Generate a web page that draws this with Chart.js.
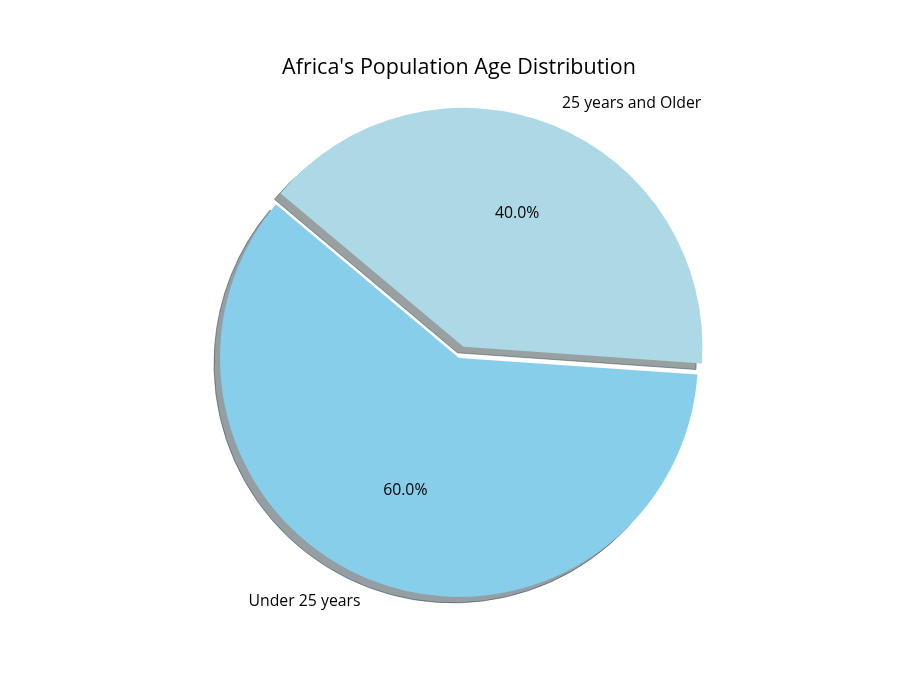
<!DOCTYPE html>
<html>
<head>
<meta charset="utf-8">
<title>Africa's Population Age Distribution</title>
<script src="https://cdn.jsdelivr.net/npm/chart.js@4.4.1/dist/chart.umd.min.js"></script>
<style>
html, body { margin: 0; padding: 0; background: #fff; }
#wrap { width: 900px; height: 700px; }
</style>
</head>
<body>
<div id="wrap"><canvas id="pieChart"></canvas></div>
<script>
// data
const labels = ['Under 25 years', '25 years and Older'];
const shares = [60, 40];
const colors = ['#87CEEB', '#ADD8E6'];
const explode = [0, 0.05]; // fraction of the radius

const FONT = '"Open Sans", "DejaVu Sans", sans-serif';

function hexToRgb(hex) {
  const n = parseInt(hex.slice(1), 16);
  return [(n >> 16) & 255, (n >> 8) & 255, n & 255];
}

// shift of an arc along its middle angle
function explodeShift(el, i) {
  const mid = (el.startAngle + el.endAngle) / 2;
  const d = explode[i] * el.outerRadius;
  return { dx: Math.cos(mid) * d, dy: Math.sin(mid) * d };
}

// move the exploded slice out without changing its radius
const explodePlugin = {
  id: 'explode',
  afterUpdate(chart) {
    chart.getDatasetMeta(0).data.forEach((el, i) => {
      if (!explode[i] || el._patched) return;
      el._patched = true;
      const draw = el.draw;
      el.draw = function (ctx) {
        const s = explodeShift(this, i);
        ctx.save();
        ctx.translate(s.dx, s.dy);
        draw.call(this, ctx);
        ctx.restore();
      };
    });
  }
};

// grey drop shadow under every slice, drawn before the slices
const shadowPlugin = {
  id: 'shadow',
  beforeDatasetsDraw(chart) {
    const ctx = chart.ctx;
    chart.getDatasetMeta(0).data.forEach((el, i) => {
      const s = explodeShift(el, i);
      const rgb = hexToRgb(colors[i]).map(v => Math.round(v * 0.3));
      const shade = `rgba(${rgb[0]}, ${rgb[1]}, ${rgb[2]}, 0.5)`;
      ctx.save();
      ctx.translate(s.dx - 6, s.dy + 6);
      ctx.beginPath();
      ctx.moveTo(el.x, el.y);
      ctx.arc(el.x, el.y, el.outerRadius, el.startAngle, el.endAngle);
      ctx.closePath();
      ctx.fillStyle = shade;
      ctx.fill();
      ctx.strokeStyle = shade;
      ctx.lineWidth = 1;
      ctx.stroke();
      ctx.restore();
    });
  }
};

// outer labels and percentages
const labelPlugin = {
  id: 'sliceLabels',
  afterDatasetsDraw(chart) {
    const ctx = chart.ctx;
    const total = shares.reduce((a, b) => a + b, 0);
    ctx.save();
    ctx.fillStyle = '#000';
    ctx.font = '15.8px ' + FONT;
    ctx.textBaseline = 'middle';
    chart.getDatasetMeta(0).data.forEach((el, i) => {
      const s = explodeShift(el, i);
      const mid = (el.startAngle + el.endAngle) / 2;
      const r = el.outerRadius;
      const cx = el.x + s.dx, cy = el.y + s.dy;
      const cos = Math.cos(mid), sin = Math.sin(mid);

      ctx.textAlign = cos > 0 ? 'left' : 'right';
      ctx.fillText(labels[i], cx + 1.1 * r * cos, cy + 1.1 * r * sin);

      ctx.textAlign = 'center';
      const pct = (shares[i] / total * 100).toFixed(1) + '%';
      ctx.fillText(pct, cx + 0.6 * r * cos, cy + 0.6 * r * sin);
    });
    ctx.restore();
  }
};

const ctx = document.getElementById('pieChart').getContext('2d');
new Chart(ctx, {
  type: 'pie',
  data: {
    labels: labels,
    datasets: [{
      data: shares,
      backgroundColor: colors,
      borderWidth: 0,
      hoverOffset: 0
    }]
  },
  options: {
    responsive: true,
    maintainAspectRatio: false,
    animation: false,
    rotation: 94,
    radius: 239,
    layout: { padding: { left: 18, right: 0, top: 0, bottom: 75 } },
    plugins: {
      legend: { display: false },
      tooltip: { enabled: false },
      title: {
        display: true,
        text: "Africa's Population Age Distribution",
        color: '#000',
        font: { family: FONT, size: 21.5, weight: 'normal', lineHeight: 1.2 },
        padding: { top: 55, bottom: 10 }
      }
    }
  },
  plugins: [explodePlugin, shadowPlugin, labelPlugin]
});
</script>
</body>
</html>
